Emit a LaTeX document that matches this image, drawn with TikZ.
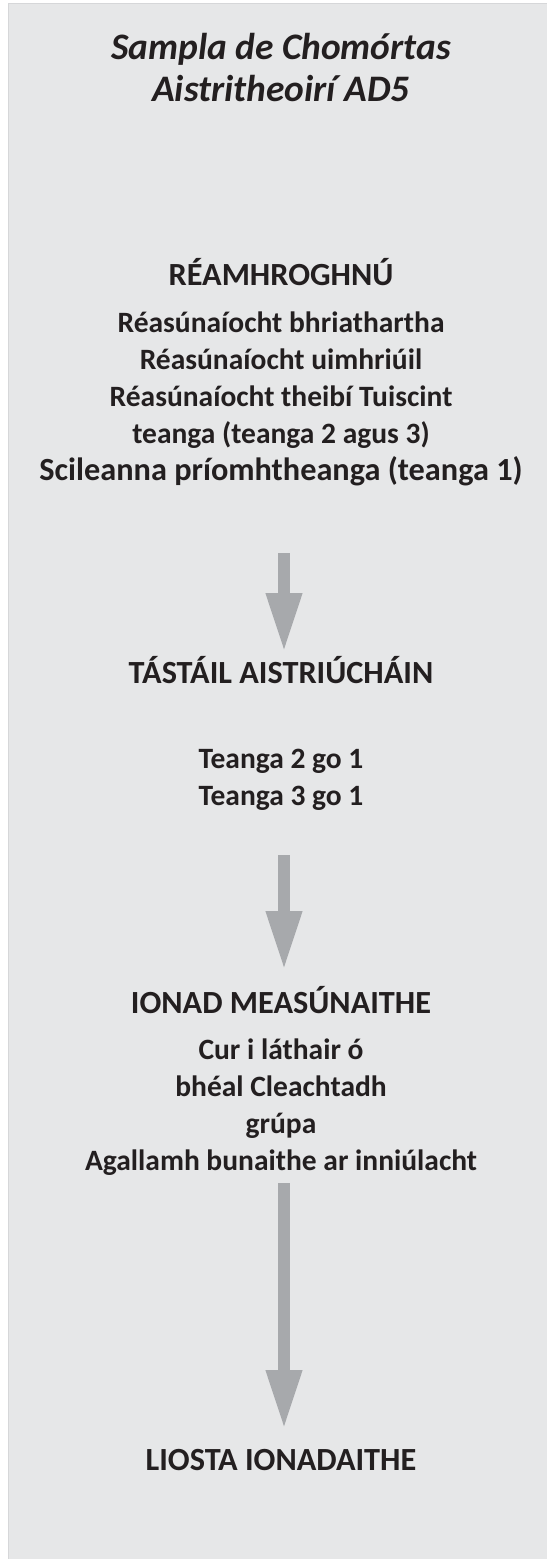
\documentclass[tikz,border=0pt]{standalone}
\usepackage{fontspec}
\setmainfont{Carlito}
\usetikzlibrary{arrows.meta}
\definecolor{bg}{HTML}{E6E7E8}
\definecolor{edgec}{HTML}{D6D7D9}
\definecolor{arr}{HTML}{A7A9AC}
\definecolor{ink}{HTML}{231F20}
\newcommand{\bigline}{\fontsize{32.3}{36.8}\selectfont}
\begin{document}
\begin{tikzpicture}[x=1pt,y=-1pt,
  titletext/.style={font=\fontsize{37.4}{42}\selectfont\bfseries\itshape, text=ink, inner sep=0pt, align=center, anchor=base},
  headtext/.style={font=\fontsize{32.3}{37}\selectfont\bfseries, text=ink, inner sep=0pt, align=center, anchor=base},
  bodytext/.style={font=\fontsize{29.5}{36.8}\selectfont\bfseries, text=ink, inner sep=0pt, align=center, anchor=base},
  flowarrow/.style={draw=arr, line width=12.6pt, -{Triangle[length=60pt,width=33pt]}}]
\useasboundingbox (0,0) rectangle (547,1559);
\fill[bg] (8,3) rectangle (547,1559);
\draw[edgec, line width=1pt] (8.5,1559) -- (8.5,3.5) -- (547,3.5);
\node[titletext] (title) at (281,101) {Sampla de Chomórtas\\Aistritheoirí AD5};
\node[headtext] (h1) at (281,285) {RÉAMHROGHNÚ};
\node[bodytext] (b1) at (281,480) {Réasúnaíocht bhriathartha\\Réasúnaíocht uimhriúil\\Réasúnaíocht theibí Tuiscint\\teanga (teanga 2 agus 3)\\{\bigline Scileanna príomhtheanga (teanga 1)}};
\node[headtext] (h2) at (281,683) {TÁSTÁIL AISTRIÚCHÁIN};
\node[bodytext] (b2) at (281,805) {Teanga 2 go 1\\Teanga 3 go 1};
\node[headtext] (h3) at (281,1013) {IONAD MEASÚNAITHE};
\node[bodytext] (b3) at (281,1170) {Cur i láthair ó\\bhéal Cleachtadh\\grúpa\\Agallamh bunaithe ar inniúlacht};
\node[headtext] (h4) at (281,1470) {LIOSTA IONADAITHE};
\coordinate (a1s) at (284,553);
\coordinate (a1e) at (284,653);
\coordinate (a2s) at (284,855);
\coordinate (a2e) at (284,971);
\coordinate (a3s) at (284,1183);
\coordinate (a3e) at (284,1430);
\draw[flowarrow] (a1s) -- (a1e);
\draw[flowarrow] (a2s) -- (a2e);
\draw[flowarrow] (a3s) -- (a3e);
\end{tikzpicture}
\end{document}
